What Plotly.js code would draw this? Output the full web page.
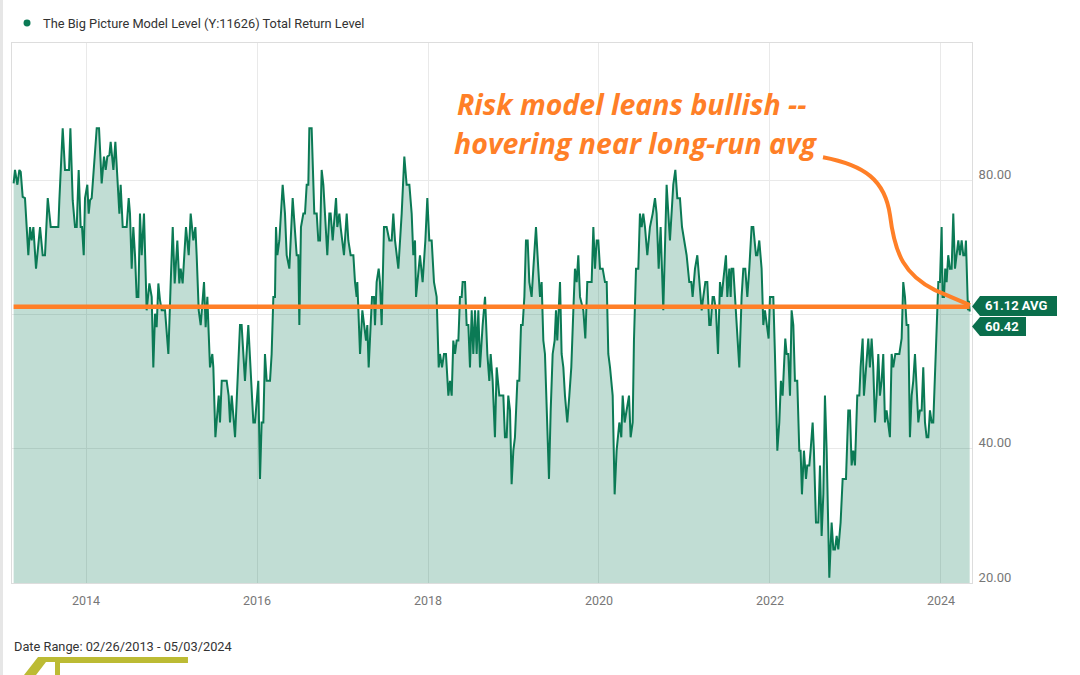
<!DOCTYPE html>
<html><head><meta charset="utf-8">
<script src="https://cdn.plot.ly/plotly-3.0.1.min.js"></script>
<style>html,body{margin:0;padding:0;background:#fff;}#chart{width:1080px;height:675px;}</style>
</head><body><div id="chart"></div>
<script>
// Decimal-year dates
const dates = [
2013.153,2013.169,2013.197,2013.220,2013.236,2013.259,2013.286,2013.325,2013.345,2013.364,
2013.384,2013.415,2013.462,2013.493,2013.520,2013.552,2013.587,2013.657,2013.676,2013.688,
2013.727,2013.754,2013.801,2013.817,2013.844,2013.871,2013.891,2013.914,2013.937,2013.953,
2013.973,2013.988,2014.015,2014.031,2014.047,2014.066,2014.093,2014.125,2014.152,2014.183,
2014.210,2014.230,2014.249,2014.273,2014.288,2014.320,2014.343,2014.366,2014.390,2014.405,
2014.429,2014.475,2014.499,2014.514,2014.534,2014.553,2014.573,2014.592,2014.612,2014.631,
2014.651,2014.678,2014.709,2014.741,2014.768,2014.787,2014.807,2014.826,2014.846,2014.865,
2014.885,2014.924,2014.963,2014.990,2015.014,2015.037,2015.068,2015.091,2015.107,2015.130,
2015.169,2015.201,2015.224,2015.255,2015.279,2015.294,2015.318,2015.341,2015.380,2015.399,
2015.419,2015.431,2015.450,2015.477,2015.489,2015.513,2015.552,2015.567,2015.587,2015.645,
2015.668,2015.684,2015.704,2015.743,2015.770,
2015.801,2015.820,2015.859,2015.898,2015.918,2015.957,2015.976,2016.015,2016.035,2016.054,
2016.074,2016.093,2016.113,2016.152,2016.171,2016.191,2016.210,2016.222,2016.238,2016.261,
2016.300,2016.327,2016.347,2016.378,2016.417,2016.444,2016.464,2016.483,2016.495,2016.514,
2016.542,2016.561,2016.581,2016.600,2016.612,2016.639,2016.651,2016.670,2016.698,2016.717,
2016.737,2016.756,2016.776,2016.795,2016.822,2016.846,2016.861,2016.885,2016.900,2016.924,
2016.939,2016.963,2016.978,2017.017,2017.049,2017.068,2017.095,2017.127,2017.146,2017.165,
2017.173,2017.185,2017.205,2017.232,2017.251,2017.275,2017.290,2017.306,2017.329,2017.345,
2017.368,2017.380,2017.399,2017.423,2017.438,2017.458,2017.485,2017.516,2017.548,2017.575,
2017.594,2017.614,2017.653,2017.692,2017.723,2017.750,2017.782,2017.809,2017.828,2017.848,
2017.860,2017.887,2017.906,2017.937,2017.969,2017.992,2018.015,2018.043,2018.070,2018.101,
2018.125,2018.140,2018.164,2018.187,2018.210,2018.238,2018.257,2018.277,2018.296,2018.316,
2018.335,2018.355,2018.374,2018.394,2018.405,2018.433,2018.452,2018.472,2018.491,2018.511,
2018.530,2018.550,2018.569,2018.589,
2018.608,2018.639,2018.667,2018.694,2018.717,2018.733,2018.756,2018.783,2018.803,2018.834,
2018.861,2018.881,2018.900,2018.920,2018.939,2018.959,2018.978,2018.998,2019.017,2019.045,
2019.068,2019.088,2019.107,2019.127,2019.146,2019.166,2019.185,2019.212,2019.232,2019.263,
2019.290,2019.310,2019.329,2019.349,2019.368,2019.388,2019.415,2019.435,2019.458,2019.481,
2019.497,2019.512,2019.544,2019.563,2019.583,2019.602,2019.629,2019.653,2019.676,2019.700,
2019.719,2019.739,2019.758,2019.778,2019.817,2019.840,2019.863,2019.895,2019.914,2019.934,
2019.953,2019.973,2019.992,2020.012,2020.043,2020.070,2020.090,2020.109,2020.129,2020.160,
2020.183,2020.206,2020.238,2020.261,2020.277,2020.300,2020.323,2020.351,2020.370,2020.394,
2020.409,2020.433,2020.460,2020.479,2020.499,2020.518,2020.538,2020.565,2020.596,2020.628,
2020.655,2020.674,2020.698,2020.721,2020.752,2020.772,2020.791,2020.811,2020.830,2020.869,
2020.893,2020.916,2020.947,2020.971,2020.994,2021.025,2021.056,2021.080,2021.095,2021.123,
2021.150,2021.173,2021.201,2021.220,2021.244,2021.267,2021.290,2021.306,2021.329,2021.345,
2021.368,2021.392,
2021.415,2021.434,2021.454,2021.485,2021.501,2021.524,2021.540,2021.551,2021.571,2021.590,
2021.610,2021.641,2021.668,2021.688,2021.711,2021.735,2021.758,2021.785,2021.805,2021.836,
2021.852,2021.875,2021.902,2021.922,2021.941,2021.961,2021.984,2022.000,2022.039,2022.058,
2022.086,2022.109,2022.128,2022.148,2022.164,2022.179,2022.195,2022.214,2022.234,2022.253,
2022.273,2022.292,2022.319,2022.343,2022.358,2022.374,2022.397,2022.421,2022.436,2022.460,
2022.475,2022.499,2022.514,2022.538,2022.565,2022.585,2022.604,2022.624,2022.643,2022.663,
2022.694,2022.721,2022.741,2022.760,2022.780,2022.799,2022.826,2022.850,2022.889,2022.916,
2022.935,2022.955,2022.974,2022.994,2023.021,2023.045,2023.060,2023.084,2023.099,2023.123,
2023.150,2023.169,2023.189,2023.208,2023.228,2023.247,2023.267,2023.286,2023.306,2023.325,
2023.345,2023.364,2023.384,2023.403,2023.423,2023.442,2023.466,2023.489,2023.513,2023.540,
2023.559,2023.579,2023.598,2023.618,2023.637,2023.657,2023.676,2023.696,2023.715,2023.735,
2023.754,2023.774,2023.793,2023.813,2023.832,2023.852,2023.871,2023.891,2023.910,2023.930,
2023.949,2023.969,2023.988,2024.008,2024.019,2024.035,2024.050,2024.066,2024.085,2024.105,
2024.125,2024.144,2024.164,2024.183,2024.203,2024.222,2024.242,2024.261,2024.281,2024.292,
2024.305,2024.316,2024.326,2024.336
];
// The Big Picture Model Level values
const levels = [
79.5,81.5,79.3,81.5,81.2,77.5,77.3,68.8,73.0,71.0,
73.0,66.8,73.0,68.8,68.8,77.3,73.0,73.0,73.0,77.0,
87.7,81.5,81.5,87.7,77.0,73.0,73.0,81.5,73.0,73.0,
68.8,77.3,79.3,75.0,77.0,77.3,81.5,87.7,87.7,79.5,
83.5,81.5,83.5,83.7,85.7,81.5,85.7,79.5,75.0,79.3,
73.0,73.0,77.3,75.0,66.8,73.0,68.8,62.6,62.6,75.0,
68.8,75.0,60.6,64.6,62.6,52.1,60.1,58.1,64.6,62.1,
60.6,60.6,54.1,64.6,73.0,64.6,71.0,64.6,66.8,64.6,
73.0,68.8,75.0,71.0,73.0,68.8,60.6,58.4,64.8,58.1,
62.6,58.4,52.1,54.1,52.1,41.7,47.9,43.9,50.1,50.1,
47.9,43.9,47.9,41.7,50.1,
58.4,58.4,50.1,58.4,54.1,43.9,43.9,50.1,35.5,43.9,
43.9,54.1,50.1,50.1,54.1,62.6,62.6,73.0,68.8,71.0,
79.3,75.0,68.8,66.8,77.3,73.0,68.8,68.8,58.4,73.0,
75.0,75.0,79.3,79.3,87.7,87.7,83.5,75.0,75.0,71.0,
71.0,81.5,79.3,75.0,68.8,75.0,75.0,71.0,73.0,77.3,
73.0,75.0,73.0,68.8,75.0,71.0,68.8,68.8,64.8,62.6,
64.8,60.6,54.1,60.6,58.4,56.1,58.4,52.1,58.4,62.6,
62.6,58.4,64.8,66.8,64.8,58.4,73.0,73.0,71.0,71.0,
75.0,71.0,66.8,75.0,83.5,79.3,79.3,75.0,68.8,71.0,
62.6,66.8,68.8,64.8,71.0,77.3,71.0,71.0,64.8,62.6,
52.1,54.1,52.1,54.1,54.1,47.9,50.1,47.9,56.1,54.1,
56.1,56.1,62.6,62.6,64.8,64.8,58.4,58.4,52.1,60.6,
54.1,60.6,54.1,60.6,
52.1,58.4,62.6,54.1,50.1,54.1,50.1,41.7,52.1,47.9,
47.9,47.9,41.7,41.7,47.9,45.7,34.7,39.7,41.7,50.1,
50.1,58.4,58.4,62.6,71.0,71.0,64.8,62.6,66.8,73.0,
66.8,62.6,64.8,56.1,54.1,45.2,35.5,45.7,54.1,56.1,
60.6,56.1,64.8,54.1,52.1,47.9,43.9,47.9,52.1,60.6,
66.8,64.8,68.8,62.6,60.6,56.4,64.8,64.8,64.8,73.0,
66.8,71.0,71.0,66.8,66.8,64.8,64.8,54.1,52.1,47.9,
33.2,39.7,43.9,41.7,47.9,43.9,45.7,47.9,41.7,43.9,
56.1,66.8,66.8,75.0,73.0,75.0,73.0,68.8,73.0,75.0,
77.3,75.0,66.8,73.0,60.6,71.0,79.3,75.0,71.0,79.3,
81.5,77.3,77.3,73.0,71.0,68.8,64.8,64.8,62.6,66.8,
68.8,64.8,60.6,62.6,64.8,64.8,58.4,58.4,62.6,62.6,
60.6,54.1,
64.8,62.6,64.8,68.8,62.6,66.8,62.6,66.8,66.8,62.6,
58.4,52.1,62.6,66.8,66.8,62.6,66.8,73.0,73.0,68.8,
68.8,71.0,66.8,58.4,60.6,58.4,56.4,62.6,62.6,54.1,
39.7,43.9,50.1,47.9,52.1,56.4,54.1,54.1,47.9,60.6,
58.4,50.1,50.1,39.7,39.7,33.2,39.7,35.5,37.5,37.5,
39.7,43.9,39.7,29.0,29.0,37.5,27.0,33.2,47.9,39.7,
20.8,29.0,25.0,25.0,27.0,25.0,29.0,35.5,35.5,45.7,
45.7,37.5,39.7,37.5,47.9,47.9,52.1,56.4,47.9,52.1,
56.4,52.1,56.4,52.1,43.9,47.9,54.1,47.9,50.1,54.1,
43.9,45.7,43.9,41.7,54.1,52.1,54.1,54.1,54.1,56.4,
64.8,62.6,58.4,58.4,41.7,47.9,50.1,54.1,47.9,43.9,
45.7,45.7,52.1,43.9,41.7,41.7,45.7,43.9,43.9,50.1,
56.4,64.8,64.8,73.0,62.6,62.6,66.8,64.8,68.8,66.8,
66.8,75.0,66.8,68.8,71.0,68.8,71.0,68.8,68.8,71.0,
62.6,60.6,62.0,60.42
];
const avgLevel = 61.12;
const lastLevel = 60.42;
const seriesName = 'The Big Picture Model Level (Y:11626) Total Return Level';
const dateRangeText = 'Date Range: 02/26/2013 - 05/03/2024';
const noteLines = ['Risk model leans bullish --', 'hovering near long-run avg'];
const xTickVals = [2014, 2016, 2018, 2020, 2022, 2024];
const xTickText = ['2014', '2016', '2018', '2020', '2022', '2024'];
const yTickVals = [20, 40, 60, 80];
const yTickText = ['20.00', '40.00', '', '80.00'];

const GREEN = '#0b7a55';
const TAG = '#0a6e4c';
const ORANGE = '#ff7f27';
const OLIVE = '#bcbb34';
const FONT = 'Roboto, "Noto Sans", sans-serif';
const NOTE_FONT = {family: '"Open Sans", Lato, sans-serif', size: 28.5, color: ORANGE, weight: 'bold', style: 'italic'};

const traces = [
  {
    type: 'scatter', mode: 'lines', x: dates, y: levels, name: seriesName,
    fill: 'tozeroy', fillcolor: 'rgba(0,115,80,0.245)',
    line: {color: GREEN, width: 2}, showlegend: false, hoverinfo: 'skip'
  },
  {
    type: 'scatter', mode: 'lines',
    x: [dates[0], dates[dates.length - 1]], y: [avgLevel, avgLevel],
    line: {color: ORANGE, width: 4.5}, showlegend: false, hoverinfo: 'skip'
  }
];

const layout = {
  width: 1080, height: 675,
  margin: {l: 12, r: 108, t: 43, b: 92, pad: 0},
  paper_bgcolor: '#ffffff', plot_bgcolor: '#ffffff',
  font: {family: FONT, color: '#444'},
  showlegend: false,
  xaxis: {
    type: 'linear', range: [2013.134, 2024.363],
    tickvals: xTickVals, ticktext: xTickText,
    showgrid: true, gridcolor: '#e9e9e9', gridwidth: 1,
    zeroline: false, showline: true, linecolor: '#dddddd', linewidth: 1, mirror: true,
    ticks: '', ticklabelstandoff: 6,
    tickfont: {family: FONT, size: 12.5, color: '#777777'}
  },
  yaxis: {
    side: 'right', range: [20, 100.4],
    tickvals: yTickVals, ticktext: yTickText,
    showgrid: true, gridcolor: '#e9e9e9', gridwidth: 1,
    zeroline: false, showline: true, linecolor: '#dddddd', linewidth: 1, mirror: true,
    ticks: '', ticklabelstandoff: 3, ticklabelshift: -6,
    tickfont: {family: FONT, size: 13, color: '#777777'}
  },
  shapes: [
    // page edge bar
    {type: 'rect', xref: 'paper', yref: 'paper', x0: -0.0125, x1: -0.0094, y0: -0.171, y1: 1.08, fillcolor: '#e6e6e6', line: {width: 0}, layer: 'above'},
    // legend dot
    {type: 'circle', xref: 'paper', yref: 'paper', x0: 0.0120, x1: 0.0193, y0: 1.0306, y1: 1.0435, fillcolor: GREEN, line: {width: 0}},
    // curved pointer from the note to the average line
    {type: 'path', xref: 'x', yref: 'y', layer: 'above',
     path: 'M 2022.620,83.39 C 2023.111,82.20 2023.345,79.97 2023.404,74.76 C 2023.462,68.81 2023.579,65.83 2023.930,63.60 L 2024.339,61.37',
     line: {color: ORANGE, width: 4}},
    // value tags
    {type: 'path', xref: 'paper', yref: 'paper', layer: 'above',
     path: 'M 1.0,0.5120 L 1.00833,0.5315 L 1.08854,0.5315 L 1.08854,0.4944 L 1.00833,0.4944 Z',
     fillcolor: TAG, line: {width: 0}},
    {type: 'path', xref: 'paper', yref: 'paper', layer: 'above',
     path: 'M 1.0,0.4750 L 1.00833,0.4926 L 1.05625,0.4926 L 1.05625,0.4574 L 1.00833,0.4574 Z',
     fillcolor: TAG, line: {width: 0}},
    // logo fragments (cut off by the page bottom)
    {type: 'rect', xref: 'paper', yref: 'paper', x0: 0.0448, x1: 0.1833, y0: -0.1481, y1: -0.1370, fillcolor: OLIVE, line: {width: 0}},
    {type: 'path', xref: 'paper', yref: 'paper',
     path: 'M 0.0125,-0.1704 L 0.0250,-0.1704 L 0.0354,-0.1463 L 0.0448,-0.1463 L 0.0448,-0.1704 L 0.0500,-0.1704 L 0.0500,-0.1370 L 0.0271,-0.1370 Z',
     fillcolor: OLIVE, line: {width: 0}}
  ],
  annotations: [
    {xref: 'paper', yref: 'paper', x: 0.0302, y: 1.037, xanchor: 'left', yanchor: 'middle', showarrow: false,
     text: seriesName, font: {family: FONT, size: 12.8, color: '#333333'}},
    {xref: 'paper', yref: 'paper', x: 0.4615, y: 0.887, xanchor: 'left', yanchor: 'middle', showarrow: false,
     text: noteLines[0], font: NOTE_FONT},
    {xref: 'paper', yref: 'paper', x: 0.4580, y: 0.8148, xanchor: 'left', yanchor: 'middle', showarrow: false,
     text: noteLines[1], font: NOTE_FONT},
    {xref: 'paper', yref: 'paper', x: 1.0115, y: 0.5130, xanchor: 'left', yanchor: 'middle', showarrow: false,
     text: avgLevel.toFixed(2) + ' AVG', font: {family: FONT, size: 13, color: '#ffffff', weight: 'bold'}},
    {xref: 'paper', yref: 'paper', x: 1.0115, y: 0.4750, xanchor: 'left', yanchor: 'middle', showarrow: false,
     text: lastLevel.toFixed(2), font: {family: FONT, size: 13, color: '#ffffff', weight: 'bold'}},
    {xref: 'paper', yref: 'paper', x: 0, y: -0.1167, xanchor: 'left', yanchor: 'middle', showarrow: false,
     text: dateRangeText, font: {family: FONT, size: 12.8, color: '#333333'}}
  ]
};

Plotly.newPlot('chart', traces, layout, {staticPlot: true, displayModeBar: false});
</script>
</body></html>
